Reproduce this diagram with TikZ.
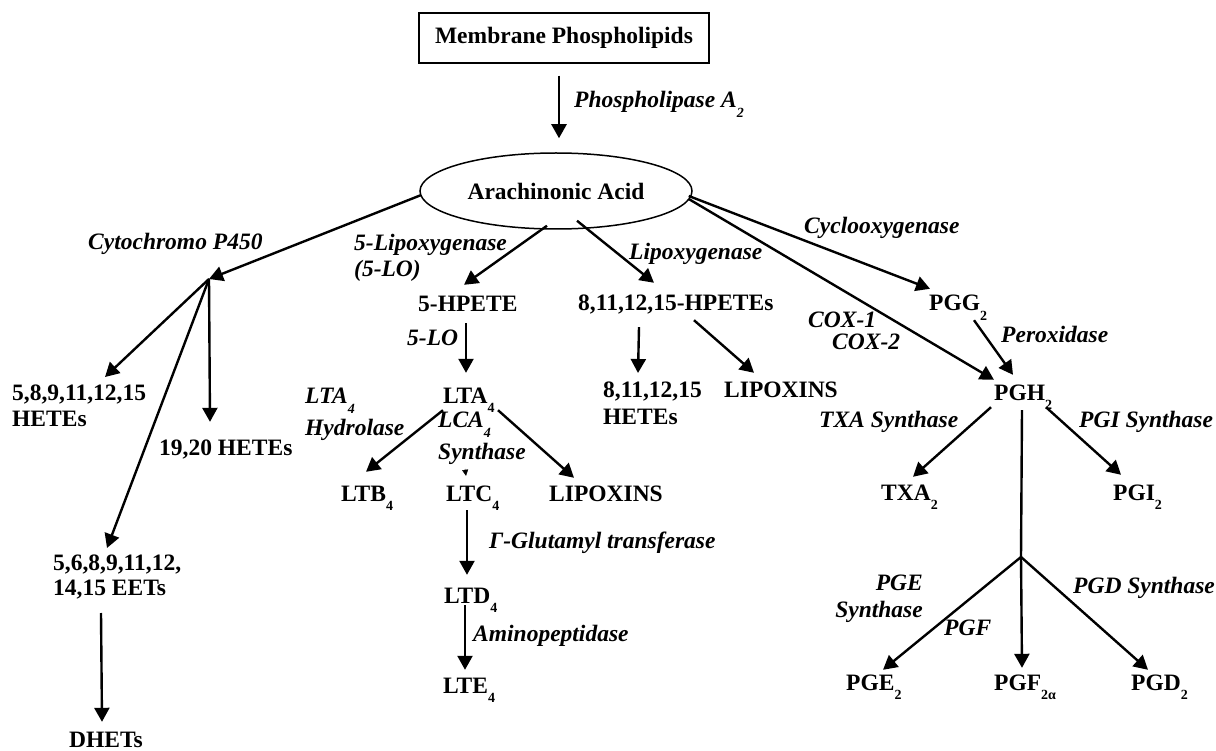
\documentclass[tikz,border=0pt]{standalone}
\usepackage{fontspec}
\setmainfont{Liberation Serif}
\usetikzlibrary{arrows.meta,shapes.geometric,calc}

\newcommand{\sbs}[1]{\raisebox{-9.5pt}{\fontsize{14}{14}\selectfont #1}}

\tikzset{
  cmpd/.style={font=\bfseries\fontsize{23.5}{26}\selectfont, inner sep=1pt, text height=16pt, text depth=6pt, anchor=base west},
  enz/.style={font=\bfseries\itshape\fontsize{23.5}{26}\selectfont, inner sep=1pt, anchor=base west},
  cmpdm/.style={font=\bfseries\fontsize{23.5}{26}\selectfont, inner sep=1pt, anchor=north west, align=left},
  enzm/.style={font=\bfseries\itshape\fontsize{23.5}{26}\selectfont, inner sep=1pt, anchor=north west, align=left},
  arr/.style={-{Triangle[length=14pt,width=15pt]}, line width=2.4pt},
  tinyarr/.style={-{Triangle[length=6pt,width=6pt]}, line width=0.5pt}
}

\begin{document}
\begin{tikzpicture}[x=1pt, y=-1pt]
\useasboundingbox (0,0) rectangle (1216,751);

\node [draw, line width=1.5pt, minimum width=290pt, minimum height=50pt, font=\bfseries\fontsize{23.5}{26}\selectfont] (mem) at (564,38) {Membrane Phospholipids};
\node [draw, ellipse, line width=1.5pt, minimum width=272pt, minimum height=76pt, inner sep=0pt, font=\bfseries\fontsize{23.5}{26}\selectfont] (aa) at (556,191) {Arachinonic Acid};
\node [enz] (phos) at (573,108) {Phospholipase A\sbs{2}};

% cytochrome branch
\coordinate (cyj) at (209,279);
\node [enz] (cyp) at (87,250) {Cytochromo P450};
\node [cmpdm] (hete5) at (11,384) {5,8,9,11,12,15\\HETEs};
\node [cmpd] (hete19) at (158,455) {19,20 HETEs};
\node [cmpdm, font=\bfseries\fontsize{23.5}{25}\selectfont] (eet) at (52,554) {5,6,8,9,11,12,\\14,15 EETs};
\node [cmpd] (dhet) at (68,747) {DHETs};

% 5-lipoxygenase branch
\node [enzm] (lox5) at (353,233) {5-Lipoxygenase\\(5-LO)};
\node [cmpd] (hpete) at (417,312) {5-HPETE};
\node [enz] (lo5) at (406,345) {5-LO};
\node [cmpd] (lta) at (442,403) {LTA\sbs{4}};
\node [enzm] (hyd) at (304,387) {LTA\sbs{4}\\[6pt]Hydrolase};
\node [enzm] (lca) at (437,411) {LCA\sbs{4}\\[6pt]Synthase};
\node [cmpd] (ltb) at (340,501) {LTB\sbs{4}};
\node [cmpd] (ltc) at (445,501) {LTC\sbs{4}};
\node [cmpd] (lip1) at (548,501) {LIPOXINS};
\node [enz] (glu) at (488,548) {Γ-Glutamyl transferase};
\node [cmpd] (ltd) at (443,603) {LTD\sbs{4}};
\node [enz] (amino) at (472,641) {Aminopeptidase};
\node [cmpd] (lte) at (442,693) {LTE\sbs{4}};

% lipoxygenase branch
\node [enz] (lox) at (628,260) {Lipoxygenase};
\node [cmpd] (hpetes) at (577,311) {8,11,12,15-HPETEs};
\node [cmpdm, font=\bfseries\fontsize{23.5}{27}\selectfont] (hete8) at (602,381) {8,11,12,15\\HETEs};
\node [cmpd] (lip2) at (723,398) {LIPOXINS};

% cyclooxygenase branch
\node [enz] (cyclo) at (803,234) {Cyclooxygenase};
\node [enzm, font=\bfseries\itshape\fontsize{23.5}{22}\selectfont] (cox) at (807,311) {COX-1\\\hspace*{24pt}COX-2};
\node [cmpd] (pgg) at (928,311) {PGG\sbs{2}};
\node [enz] (perox) at (1000,343) {Peroxidase};
\node [cmpd] (pgh) at (993,400) {PGH\sbs{2}};
\node [enz] (txas) at (818,428) {TXA Synthase};
\node [enz] (pgis) at (1078,428) {PGI Synthase};
\node [cmpd] (txa) at (880,500) {TXA\sbs{2}};
\node [cmpd] (pgi) at (1112,500) {PGI\sbs{2}};
\coordinate (pgj) at (1021,557);
\node [enzm, anchor=north east, align=right, font=\bfseries\itshape\fontsize{23.5}{27}\selectfont] (pges) at (924,574) {PGE\\Synthase};
\node [enz] (pgf) at (943,635) {PGF};
\node [enz] (pgds) at (1072,593) {PGD Synthase};
\node [cmpd] (pge) at (845,690) {PGE\sbs{2}};
\node [cmpd] (pgf2) at (993,690) {PGF\sbs{2α}};
\node [cmpd] (pgd) at (1130,690) {PGD\sbs{2}};

% arrows
\draw [arr] ($(mem.south)+(-5,12)$) -- ($(aa.north)+(3,-14)$);
\draw [arr] ($(aa.west)+(2,4)$) -- (cyj);
\draw [arr] (cyj) -- ($(hete5.north west)+(94,-7)$);
\draw [arr] (cyj) -- ($(hete19.north west)+(52,-16)$);
\draw [arr] (cyj) -- ($(eet.north west)+(55,-6)$);
\draw [arr] ($(eet.north west)+(49,59)$) -- ($(dhet.north west)+(34,-8)$);
\draw [arr] ($(aa.south)+(-9,-4)$) -- ($(hpete.north west)+(47,-10)$);
\draw [arr] ($(hpete.south west)+(49,4)$) -- ($(lta.north west)+(24,-13)$);
\draw [arr] ($(lta.south west)+(1,0)$) -- ($(ltb.north west)+(26,-12)$);
\draw [arr] ($(lta.south west)+(56,0)$) -- ($(lip1.north west)+(26,-6)$);
\draw [tinyarr] ($(lca.north west)+(28,58)$) -- ($(ltc.north west)+(21,-8)$);
\draw [arr] ($(ltc.south west)+(22,2)$) -- ($(ltd.north west)+(24,-11)$);
\draw [arr] ($(ltd.south west)+(22,-5)$) -- ($(lte.north west)+(23,-6)$);
\draw [arr] ($(aa.south)+(21,-9)$) -- ($(hpetes.north west)+(77,-11)$);
\draw [arr] ($(hpetes.south west)+(62,9)$) -- ($(hete8.north west)+(36,-8)$);
\draw [arr] ($(hpetes.south west)+(117,2)$) -- ($(lip2.north west)+(31,-8)$);
\draw [arr] ($(aa.east)+(-4,5)$) -- ($(pgg.north west)+(2,-5)$);
\draw [arr] ($(aa.east)+(-4,8)$) -- ($(pgh.north west)+(1,-3)$);
\draw [arr] ($(pgg.south west)+(46,2)$) -- ($(pgh.north west)+(20,-8)$);
\draw [arr] ($(pgh.south west)+(-2,0)$) -- ($(txa.north west)+(33,-6)$);
\draw [arr] ($(pgh.south west)+(53,0)$) -- ($(pgi.north west)+(9,-8)$);
\draw [line width=2.4pt] ($(pgh.south west)+(29,3)$) -- (pgj);
\draw [arr] (pgj) -- ($(pge.north west)+(38,-3)$);
\draw [arr] (pgj) -- ($(pgf2.north west)+(29,-5)$);
\draw [arr] (pgj) -- ($(pgd.north west)+(18,-3)$);
\end{tikzpicture}
\end{document}
